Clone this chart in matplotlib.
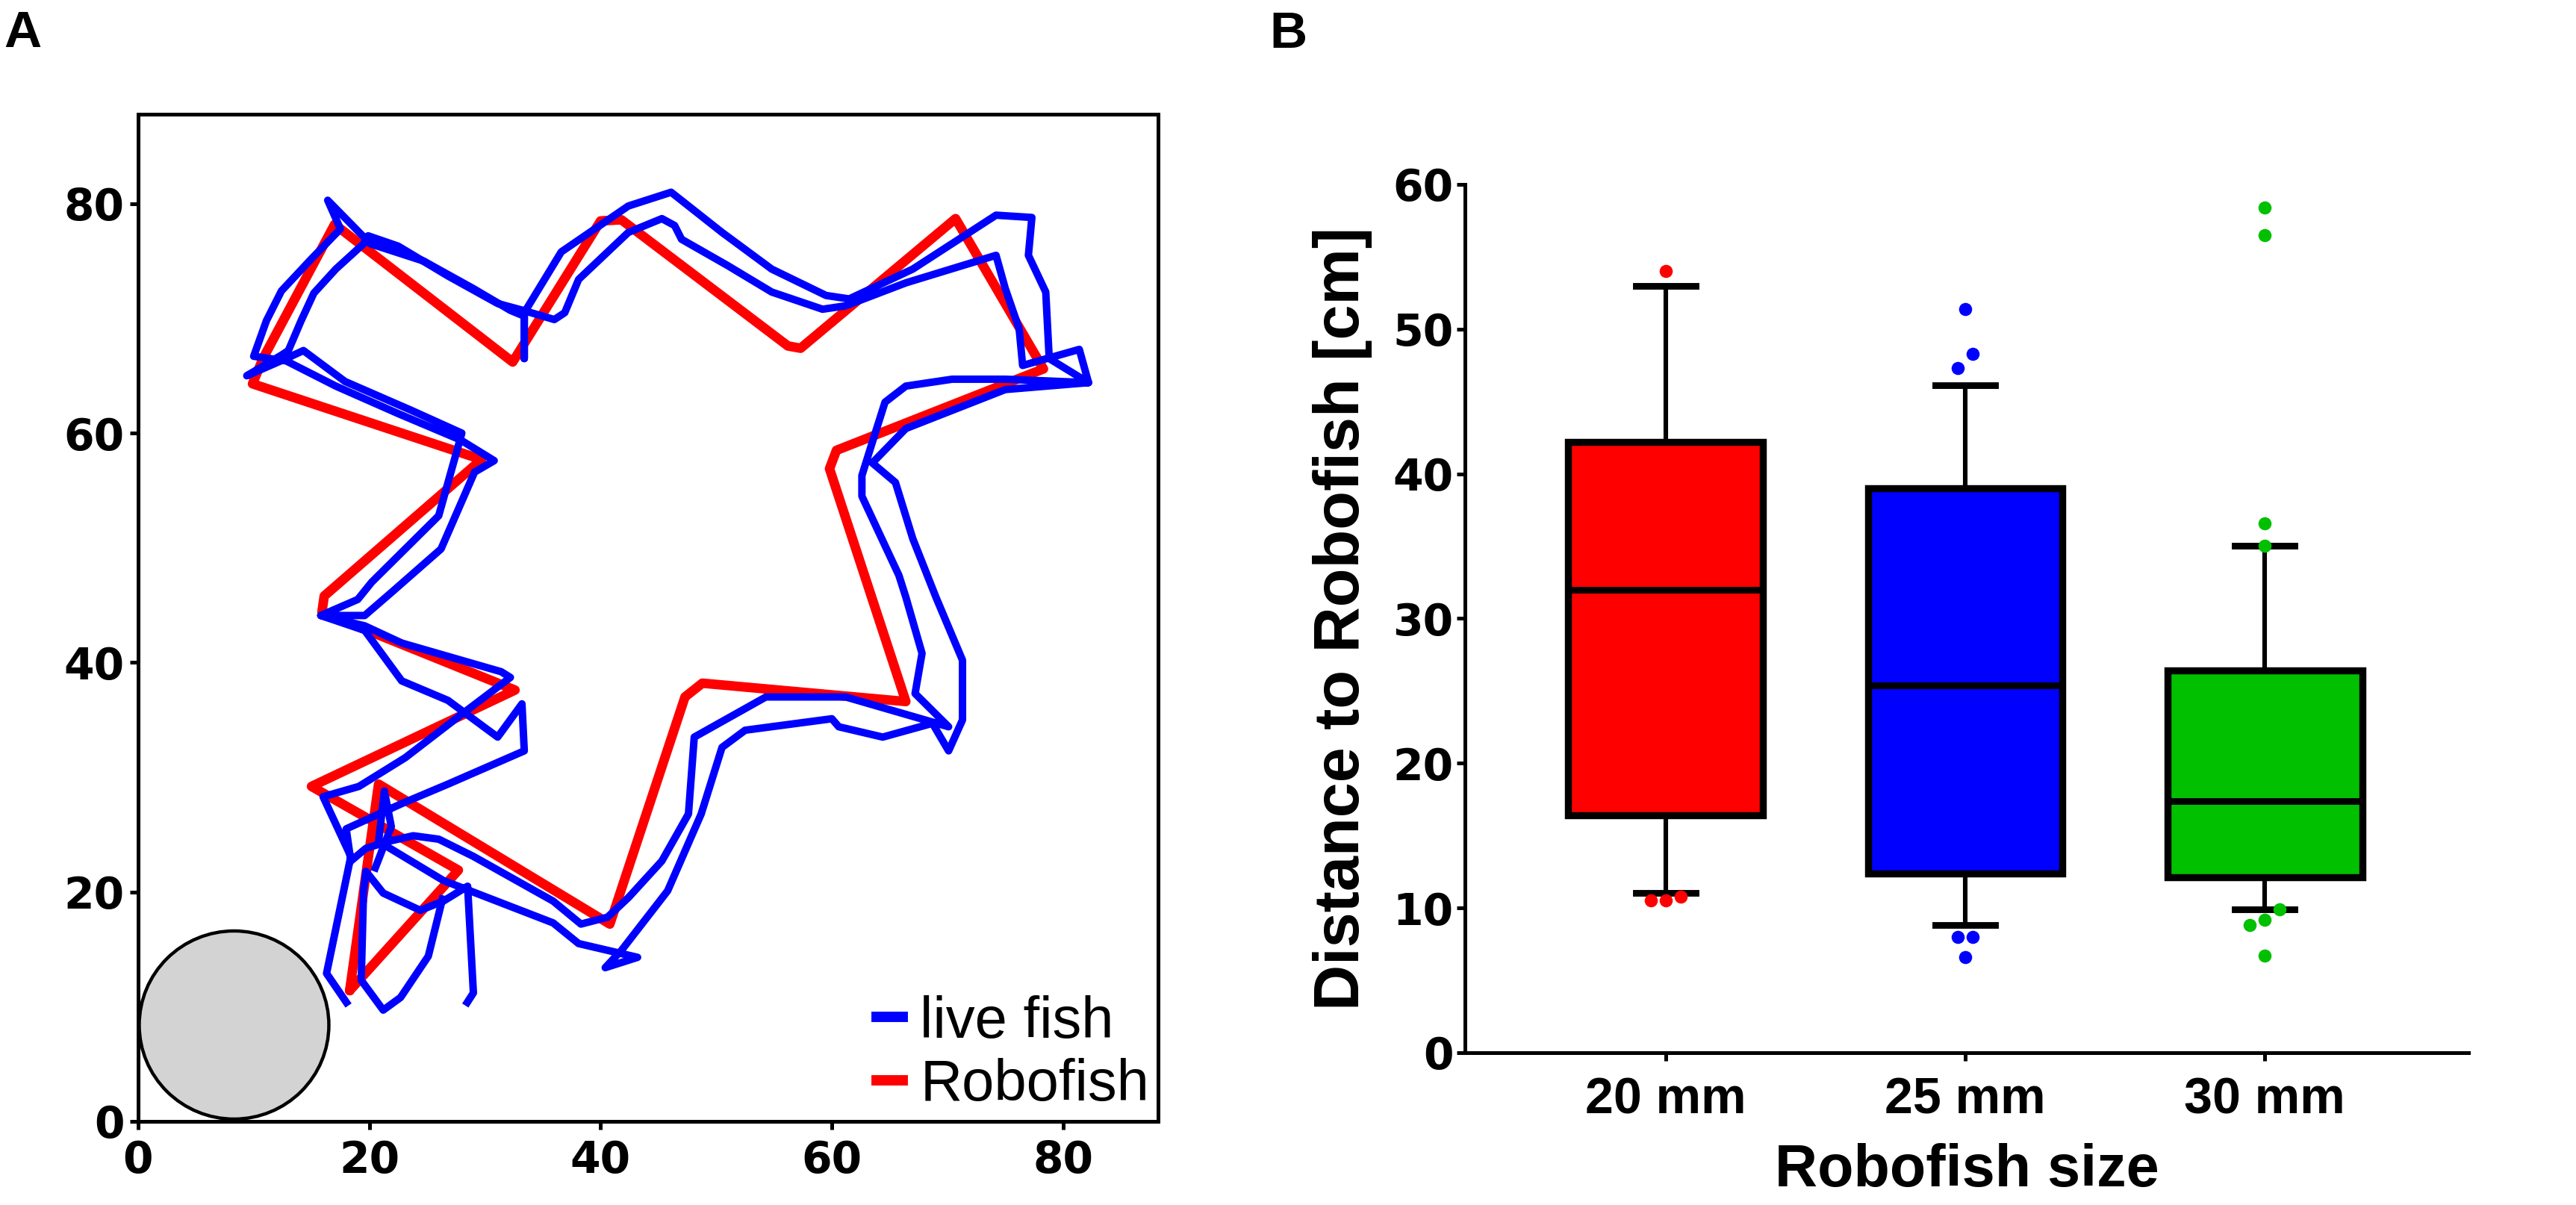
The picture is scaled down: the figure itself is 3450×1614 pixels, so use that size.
import numpy as np
import matplotlib
matplotlib.use('Agg')
import matplotlib.pyplot as plt
from matplotlib.patches import Circle
from matplotlib.lines import Line2D

plt.rcParams['font.family'] = ['Liberation Sans', 'DejaVu Sans']

# ---------------- panel A: example trajectories (cm) ----------------
robofish_path = [
    (18.3, 11.4), (20.8, 29.4), (40.8, 17.2), (47.3, 37.0), (48.8, 38.2),
    (66.4, 36.6), (59.8, 56.9), (60.4, 58.5), (78.3, 65.6), (70.7, 78.7),
    (57.3, 67.4), (56.2, 67.6), (41.8, 78.6), (40.0, 78.5), (32.4, 66.2),
    (17.0, 78.2), (10.8, 66.5), (9.9, 64.3), (29.7, 57.7), (16.1, 45.8),
    (15.9, 44.4), (32.6, 37.6), (15.0, 29.2), (27.7, 21.9), (18.3, 11.4),
]

# live fish track, NaN = tracking gap
fish_path = [
    (28.3, 10.1), (29.0, 11.2), (28.5, 20.5), (26.4, 19.2), (24.4, 18.4),
    (21.2, 19.9), (19.7, 21.8), (19.5, 20.1), (19.3, 12.3), (21.2, 9.7),
    (22.7, 10.8), (25.1, 14.4), (26.4, 19.7),
    (np.nan, np.nan),
    # lap 1
    (20.4, 21.8), (21.9, 25.7), (21.3, 28.8), (20.8, 24.4), (26.4, 21.0),
    (35.9, 17.3), (38.1, 15.5), (43.2, 14.3), (40.4, 13.4), (41.8, 14.9),
    (45.8, 20.1), (48.7, 26.8), (50.5, 32.6), (52.5, 34.1), (60.0, 35.1),
    (60.6, 34.4), (64.4, 33.5), (68.7, 34.7), (70.1, 32.3), (71.3, 35.0),
    (71.3, 40.2), (69.0, 45.7), (67.0, 50.8), (65.5, 55.7), (63.5, 57.4),
    (66.4, 60.4), (75.0, 63.8), (82.2, 64.4), (78.8, 66.5), (78.5, 72.3),
    (77.0, 75.5), (77.3, 78.8), (74.2, 79.0), (67.0, 74.3), (61.5, 71.7),
    (59.5, 72.0), (54.8, 74.3), (50.5, 77.5), (46.1, 81.0), (42.4, 79.8),
    (39.5, 77.8), (36.6, 75.8), (33.4, 70.5), (33.4, 66.5), (33.4, 70.2),
    (32.2, 70.7), (29.0, 72.6), (24.7, 75.0), (20.1, 76.5), (16.4, 80.3),
    (17.5, 77.8), (15.0, 75.2), (12.4, 72.4), (11.1, 69.8), (10.0, 66.7),
    (12.8, 66.3), (17.1, 64.1), (22.5, 61.7), (27.9, 59.4), (30.8, 57.6),
    (29.1, 56.6), (26.2, 49.9), (21.9, 46.1), (19.6, 44.1), (15.8, 44.1),
    (19.6, 42.8), (22.8, 38.4), (26.8, 36.7), (31.1, 33.5), (33.2, 36.4),
    (33.4, 32.3), (26.8, 29.4), (22.8, 27.7), (18.0, 25.5),
    # lap 2
    (18.4, 22.7), (19.7, 23.8), (21.6, 24.4), (23.8, 24.9), (26.0, 24.6),
    (29.0, 23.1), (35.9, 19.2), (38.3, 17.2), (40.6, 17.8), (42.4, 19.5),
    (45.3, 22.7), (47.6, 26.8), (48.1, 33.5), (54.3, 37.0), (61.2, 37.0),
    (70.1, 34.4), (67.2, 37.3), (67.8, 40.8), (66.4, 45.7), (65.8, 47.6),
    (62.6, 54.5), (62.6, 56.3), (63.5, 59.2), (64.6, 62.7), (66.4, 64.1),
    (70.4, 64.7), (75.0, 64.7), (82.2, 64.4), (81.4, 67.3), (76.5, 65.9),
    (76.2, 69.1), (75.0, 72.6), (74.2, 75.5), (66.4, 73.1), (61.2, 71.1),
    (59.2, 70.8), (54.8, 72.3), (51.0, 74.6), (47.0, 76.9), (46.4, 78.1),
    (45.3, 78.7), (42.4, 77.5), (38.1, 73.4), (36.9, 70.5), (36.0, 69.9),
    (33.3, 70.7), (31.1, 71.3), (26.8, 73.7), (22.5, 76.3), (19.9, 77.2),
    (19.5, 76.5), (17.1, 74.3), (15.2, 72.2), (14.1, 69.8), (13.0, 67.2),
    (12.4, 66.8), (9.4, 65.0), (12.8, 66.5), (14.3, 67.2), (17.9, 64.5),
    (23.6, 62.0), (28.0, 60.0), (26.0, 52.8), (20.2, 47.0), (19.0, 45.5),
    (15.8, 44.1), (19.6, 43.2), (22.8, 41.7), (31.4, 39.2), (32.2, 38.7),
    (28.0, 35.5), (23.1, 31.7), (19.1, 29.2), (16.0, 28.3), (18.4, 23.1),
    (16.3, 12.9), (18.2, 10.1),
]

home_center = (8.3, 8.4)   # grey disc in the corner
home_radius = 8.2

# ---------------- panel B: distance to robofish (cm) ----------------
sizes = ['20 mm', '25 mm', '30 mm']
q1 = [16.4, 12.4, 12.1]
median = [32.0, 25.4, 17.4]
q3 = [42.2, 39.0, 26.4]
whisker_low = [11.05, 8.8, 9.9]
whisker_high = [53.0, 46.1, 35.05]
outliers = [
    [54.0, 10.8, 10.5, 10.5],
    [51.4, 48.3, 47.3, 8.0, 8.0, 6.6],
    [58.4, 56.5, 36.6, 35.05, 9.9, 9.2, 8.8, 6.7],
]
box_colors = ['#ff0000', '#0000ff', '#00c000']


def spread(vals, gap=1.3, step=0.05):
    # spread points with almost the same value side by side
    vals = np.asarray(vals, dtype=float)
    order = np.argsort(vals)
    offs = np.zeros(len(vals))
    groups, cur = [], [order[0]]
    for i in order[1:]:
        if vals[i] - vals[cur[-1]] < gap:
            cur.append(i)
        else:
            groups.append(cur)
            cur = [i]
    groups.append(cur)
    for g in groups:
        n = len(g)
        offs[g] = (np.arange(n) - (n - 1) / 2) * step
    return offs


num_family = ['DejaVu Sans']

fig = plt.figure(figsize=(17.25, 8.07), dpi=200)

# ---- A ----
ax = fig.add_axes([0.0536, 0.0694, 0.3959, 0.8358])
rp = np.array(robofish_path)
fp = np.array(fish_path)
ax.plot(rp[:, 0], rp[:, 1], color='#ff0000', lw=4.6, solid_joinstyle='round',
        solid_capstyle='round', zorder=2)
ax.plot(fp[:, 0], fp[:, 1], color='#0000ff', lw=3.6, solid_joinstyle='round',
        solid_capstyle='butt', zorder=3)
ax.add_patch(Circle(home_center, home_radius, facecolor='#d3d3d3',
                    edgecolor='black', lw=1.6, zorder=4))
ax.set_xlim(0, 88.2)
ax.set_ylim(0, 87.8)
ax.set_xticks([0, 20, 40, 60, 80])
ax.set_yticks([0, 20, 40, 60, 80])
for s in ax.spines.values():
    s.set_linewidth(1.8)
ax.tick_params(direction='out', length=4, width=1.8, labelsize=21, pad=2.5)
ax.tick_params(axis='x', pad=4.5)
for lbl in ax.get_xticklabels() + ax.get_yticklabels():
    lbl.set_fontfamily(num_family)
    lbl.set_fontweight('bold')

handles = [Line2D([], [], color='#0000ff', lw=5),
           Line2D([], [], color='#ff0000', lw=5)]
ax.legend(handles, ['live fish', 'Robofish'], loc='lower right', frameon=False,
          fontsize=28, handlelength=0.45, handletextpad=0.3, labelspacing=0.15,
          borderaxespad=0.05, borderpad=0.1)

# ---- B ----
bx = fig.add_axes([0.5687, 0.1264, 0.3896, 0.7206])
pos = np.arange(len(sizes))
stats = [dict(med=m, q1=a, q3=b, whislo=lo, whishi=hi, fliers=[])
         for m, a, b, lo, hi in zip(median, q1, q3, whisker_low, whisker_high)]
bp = bx.bxp(stats, positions=pos, widths=0.65, patch_artist=True,
            showfliers=False, capwidths=0.2,
            boxprops=dict(linewidth=3.4, edgecolor='black'),
            whiskerprops=dict(linewidth=2.2, color='black'),
            capprops=dict(linewidth=3.2, color='black'),
            medianprops=dict(linewidth=3.2, color='black'))
for patch, c in zip(bp['boxes'], box_colors):
    patch.set_facecolor(c)
for i, (vals, c) in enumerate(zip(outliers, box_colors)):
    bx.scatter(pos[i] + spread(vals), vals, s=40, color=c, zorder=5,
               linewidths=0, clip_on=False)

bx.set_xlim(-0.67, 2.68)
bx.set_ylim(0, 60)
bx.set_yticks(range(0, 61, 10))
bx.set_xticks(pos)
bx.set_xticklabels(sizes)
bx.spines['top'].set_visible(False)
bx.spines['right'].set_visible(False)
bx.spines['left'].set_linewidth(1.8)
bx.spines['bottom'].set_linewidth(1.8)
bx.tick_params(direction='out', length=4, width=1.8)
bx.tick_params(axis='y', pad=1.5, labelsize=21)
bx.tick_params(axis='x', pad=7.5, labelsize=24.5)
for lbl in bx.get_yticklabels():
    lbl.set_fontfamily(num_family)
    lbl.set_fontweight('bold')
for lbl in bx.get_xticklabels():
    lbl.set_fontweight('bold')
bx.set_ylabel('Distance to Robofish [cm]', fontsize=30.5, fontweight='bold', labelpad=10)
bx.set_xlabel('Robofish size', fontsize=28.5, fontweight='bold', labelpad=9)

fig.text(0.0014, 0.961, 'A', fontsize=25, fontweight='bold', va='baseline')
fig.text(0.4928, 0.9603, 'B', fontsize=25, fontweight='bold', va='baseline')

fig.savefig('out.png', dpi=200)
